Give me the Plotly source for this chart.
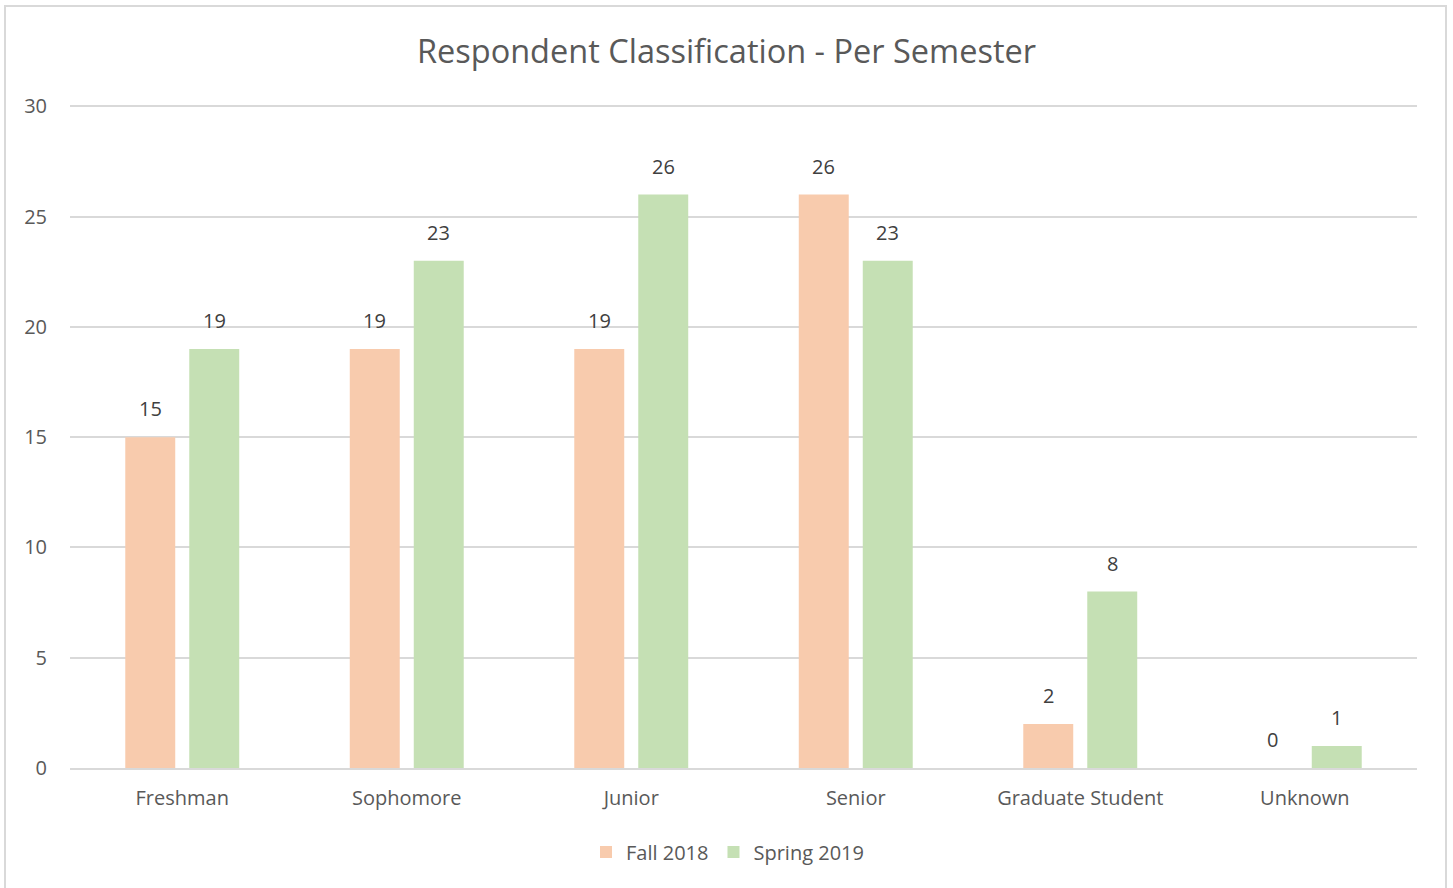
import plotly.graph_objects as go

categories = ["Freshman", "Sophomore", "Junior", "Senior", "Graduate Student", "Unknown"]
fall_2018 = [15, 19, 19, 26, 2, 0]
spring_2019 = [19, 23, 26, 23, 8, 1]
y_ticks = [0, 5, 10, 15, 20, 25, 30]

W, H = 1453, 888
ml, mr, mt, mb = 70, 36, 105, 120
pw, ph = W - ml - mr, H - mt - mb

font_family = "Open Sans, Calibri, sans-serif"
text_color = "#595959"
label_color = "#404040"

fig = go.Figure()
fig.add_trace(go.Bar(
    x=categories, y=fall_2018, name="Fall 2018",
    marker=dict(color="#F8CBAD", line=dict(width=0)),
))
fig.add_trace(go.Bar(
    x=categories, y=spring_2019, name="Spring 2019",
    marker=dict(color="#C5E0B4", line=dict(width=0)),
))

# data labels placed above each bar (offset left/right within the group)
for series, shift in ((fall_2018, -32), (spring_2019, 32)):
    for cat, val in zip(categories, series):
        fig.add_annotation(
            x=cat, y=val, xref="x", yref="y", text=str(val), showarrow=False,
            xshift=shift, yshift=13, yanchor="bottom",
            font=dict(size=20, color=label_color, family=font_family),
        )

# outer chart border
fig.add_shape(
    type="rect", xref="paper", yref="paper",
    x0=(5 - ml) / pw, x1=(1446 - ml) / pw,
    y0=(H - mb - 895) / ph, y1=(H - mb - 6) / ph,
    line=dict(color="#D9D9D9", width=2), fillcolor="rgba(0,0,0,0)", layer="below",
)

fig.update_layout(
    width=W, height=H,
    margin=dict(l=ml, r=mr, t=mt, b=mb),
    paper_bgcolor="white", plot_bgcolor="white",
    font=dict(family=font_family, color=text_color, size=20),
    title=dict(text="Respondent Classification - Per Semester",
               x=0.5, xanchor="center", y=1 - 52 / H, yanchor="middle",
               font=dict(size=32.5, color=text_color, family=font_family)),
    barmode="group", bargap=0.43, bargroupgap=0.219,
    showlegend=True,
    legend=dict(orientation="h", x=0.5 - 16 / pw, xanchor="center", y=-(852 - (H - mb)) / ph, yanchor="middle",
                font=dict(size=20, color=text_color), itemwidth=30, tracegroupgap=0),
    xaxis=dict(showgrid=False, showline=True, linecolor="#D9D9D9", linewidth=2,
               ticks="", tickfont=dict(size=20, color=text_color), ticklabelstandoff=11),
    yaxis=dict(range=[0, 30.06], tickvals=y_ticks, showgrid=True, gridcolor="#D9D9D9",
               gridwidth=2, zeroline=False, showline=False, ticks="",
               tickfont=dict(size=20, color=text_color), ticklabelstandoff=22),
)

fig.write_html("out.html", config={"displayModeBar": False},
               post_script="document.body.style.margin='0';document.body.style.overflow='hidden';")
